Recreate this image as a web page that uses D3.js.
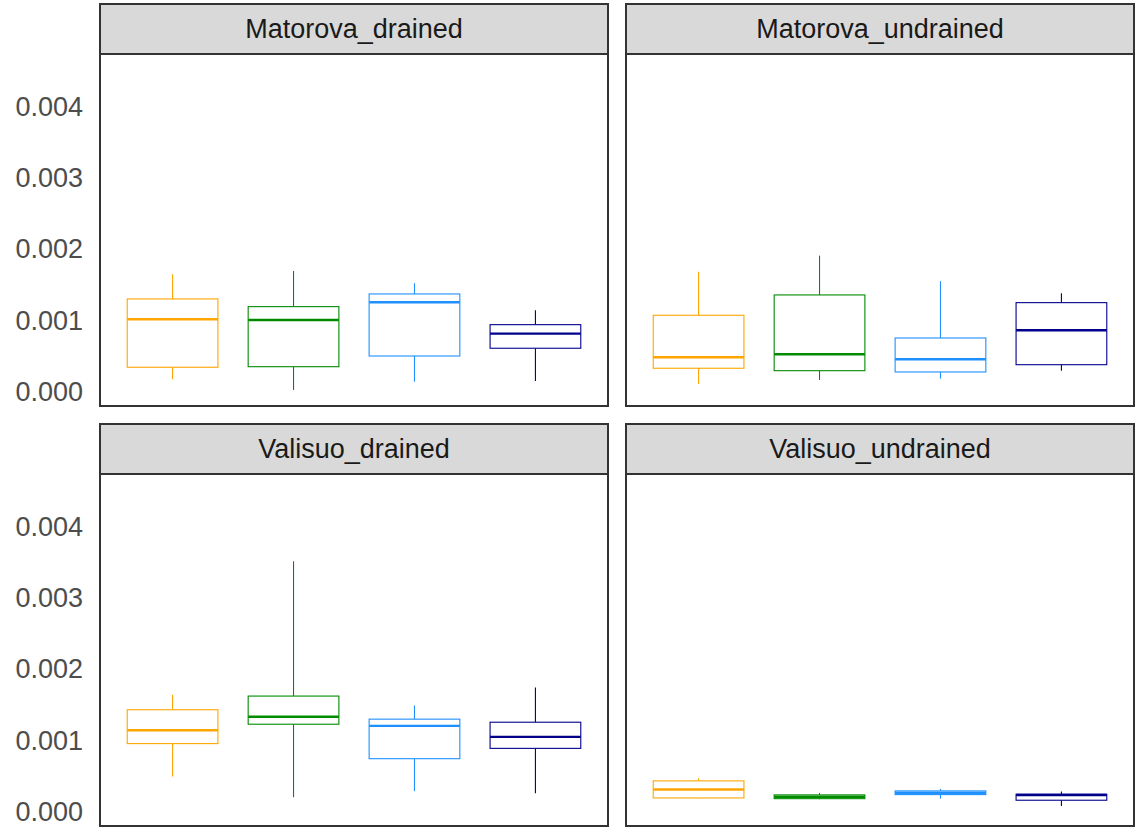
<!DOCTYPE html>
<html>
<head>
<meta charset="utf-8">
<script src="https://cdn.jsdelivr.net/npm/d3@7"></script>
<style>
  html, body { margin: 0; padding: 0; background: #fff; }
  text { font-family: "Liberation Sans", Arial, sans-serif; }
</style>
</head>
<body>
<svg id="chart" width="1135" height="827"></svg>
<script>
// ---- data ----
const facets = ["Matorova_drained", "Matorova_undrained", "Valisuo_drained", "Valisuo_undrained"];
const groups = ["g1", "g2", "g3", "g4"];
const colors = ["#FFA500", "#008B00", "#1E90FF", "#00008B"];
const yTicks = [0.000, 0.001, 0.002, 0.003, 0.004];

// per facet, per group
const whiskerLow = [
  [0.000174, 0.000024, 0.000140, 0.000150],
  [0.000108, 0.000164, 0.000183, 0.000295],
  [0.000494, 0.000203, 0.000288, 0.000260],
  [0.000190, 0.000175, 0.000183, 0.000080]
];
const q1 = [
  [0.000343, 0.000351, 0.000501, 0.000610],
  [0.000329, 0.000295, 0.000277, 0.000379],
  [0.000956, 0.001228, 0.000744, 0.000889],
  [0.000193, 0.000183, 0.000240, 0.000161]
];
const median = [
  [0.001017, 0.001007, 0.001256, 0.000815],
  [0.000483, 0.000525, 0.000455, 0.000862],
  [0.001143, 0.001332, 0.001205, 0.001050],
  [0.000311, 0.000210, 0.000266, 0.000235]
];
const q3 = [
  [0.001302, 0.001194, 0.001372, 0.000941],
  [0.001073, 0.001358, 0.000754, 0.001250],
  [0.001431, 0.001623, 0.001299, 0.001256],
  [0.000433, 0.000236, 0.000292, 0.000245]
];
const whiskerHigh = [
  [0.001649, 0.001695, 0.001522, 0.001143],
  [0.001685, 0.001910, 0.001551, 0.001382],
  [0.001643, 0.003515, 0.001492, 0.001742],
  [0.000471, 0.000264, 0.000320, 0.000282]
];

// ---- layout ----
const svg = d3.select("#chart");
const panelX = [100, 626];
const panelW = 508;
const rows = [{stripTop: 4, plotTop: 54, plotBottom: 406}, {stripTop: 424, plotTop: 474, plotBottom: 826}];
const yDomain = [-0.0002007, 0.00474];

facets.forEach((name, fi) => {
  const col = fi % 2, row = Math.floor(fi / 2);
  const x0 = panelX[col], x1 = x0 + panelW;
  const r = rows[row];
  const g = svg.append("g");

  const x = d3.scalePoint().domain(groups).range([x0, x1]).padding(0.6);
  const y = d3.scaleLinear().domain(yDomain).range([r.plotBottom, r.plotTop]);
  const bw = x.step() * 0.75;

  // strip
  g.append("rect")
    .attr("x", x0).attr("y", r.stripTop)
    .attr("width", panelW).attr("height", r.plotTop - r.stripTop)
    .attr("fill", "#d9d9d9").attr("stroke", "#333333").attr("stroke-width", 2);
  g.append("text")
    .attr("x", (x0 + x1) / 2).attr("y", (r.stripTop + r.plotTop) / 2)
    .attr("text-anchor", "middle").attr("dominant-baseline", "central")
    .attr("font-size", 27).attr("fill", "#1a1a1a")
    .text(name);

  // panel background
  g.append("rect")
    .attr("x", x0).attr("y", r.plotTop)
    .attr("width", panelW).attr("height", r.plotBottom - r.plotTop)
    .attr("fill", "#ffffff");

  // boxes
  groups.forEach((gr, gi) => {
    const cx = x(gr);
    const c = colors[gi];
    const bg = g.append("g");
    bg.append("line")
      .attr("x1", cx).attr("x2", cx)
      .attr("y1", y(q3[fi][gi])).attr("y2", y(whiskerHigh[fi][gi]))
      .attr("stroke", c).attr("stroke-width", 1.1);
    bg.append("line")
      .attr("x1", cx).attr("x2", cx)
      .attr("y1", y(q1[fi][gi])).attr("y2", y(whiskerLow[fi][gi]))
      .attr("stroke", c).attr("stroke-width", 1.1);
    bg.append("rect")
      .attr("x", cx - bw / 2).attr("width", bw)
      .attr("y", y(q3[fi][gi]))
      .attr("height", Math.max(0, y(q1[fi][gi]) - y(q3[fi][gi])))
      .attr("fill", "#ffffff").attr("stroke", c).attr("stroke-width", 1.1);
    bg.append("line")
      .attr("x1", cx - bw / 2).attr("x2", cx + bw / 2)
      .attr("y1", y(median[fi][gi])).attr("y2", y(median[fi][gi]))
      .attr("stroke", c).attr("stroke-width", 2.4);
  });

  // border
  g.append("rect")
    .attr("x", x0).attr("y", r.plotTop)
    .attr("width", panelW).attr("height", r.plotBottom - r.plotTop)
    .attr("fill", "none").attr("stroke", "#333333").attr("stroke-width", 2);

  // y axis (left column only)
  if (col === 0) {
    const ax = d3.axisLeft(y).tickValues(yTicks).tickFormat(d3.format(".3f")).tickSize(0).tickPadding(17);
    const axg = svg.append("g").attr("transform", `translate(${x0},0)`).call(ax);
    axg.select(".domain").remove();
    axg.selectAll("text")
      .attr("font-size", 27).attr("fill", "#4d4d4d")
      .style("font-family", '"Liberation Sans", Arial, sans-serif');
  }
});
</script>
</body>
</html>
